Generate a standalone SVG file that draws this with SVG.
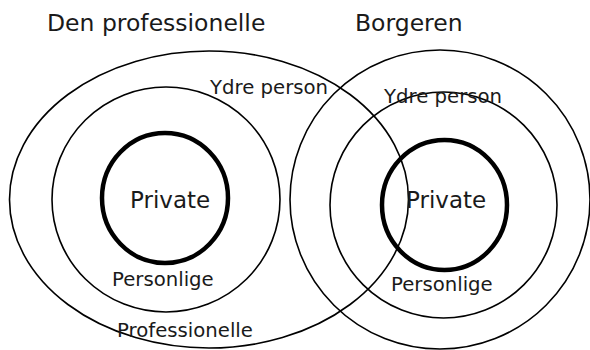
<svg xmlns="http://www.w3.org/2000/svg" width="590" height="350" viewBox="0 0 590 350">
<style>
.ring{fill:none;stroke:#000;stroke-width:1.6}
.core{fill:none;stroke:#000;stroke-width:4.5}
text{font-family:"DejaVu Sans","Liberation Sans",sans-serif;fill:#1a1a1a}
.title{font-size:23.5px}
.big{font-size:23px}
.lbl{font-size:19.7px}
</style>
<rect width="590" height="350" fill="#fff"/>
<g id="titles">
<text class="title" x="47" y="31">Den professionelle</text>
<text class="title" x="355" y="31">Borgeren</text>
</g>
<g id="professional">
<g id="prof-outer"><ellipse class="ring" cx="209" cy="199.5" rx="199.5" ry="148.5"/>
<text class="lbl" x="117" y="337">Professionelle</text></g>
<g id="prof-middle"><ellipse class="ring" cx="166" cy="199.5" rx="114" ry="112.5"/>
<text class="lbl" x="210" y="94">Ydre person</text></g>
<g id="prof-inner"><ellipse class="core" cx="165" cy="198" rx="63" ry="65"/>
<text class="big" x="130" y="208">Private</text>
<text class="lbl" x="112" y="286">Personlige</text></g>
</g>
<g id="citizen">
<g id="cit-outer"><ellipse class="ring" cx="440" cy="199.5" rx="150" ry="149.5"/></g>
<g id="cit-middle"><ellipse class="ring" cx="443.5" cy="205" rx="113.5" ry="113"/>
<text class="lbl" x="384" y="103">Ydre person</text></g>
<g id="cit-inner"><ellipse class="core" cx="444.5" cy="205" rx="62.5" ry="65"/>
<text class="big" x="406" y="208">Private</text>
<text class="lbl" x="391" y="291">Personlige</text></g>
</g>
</svg>
